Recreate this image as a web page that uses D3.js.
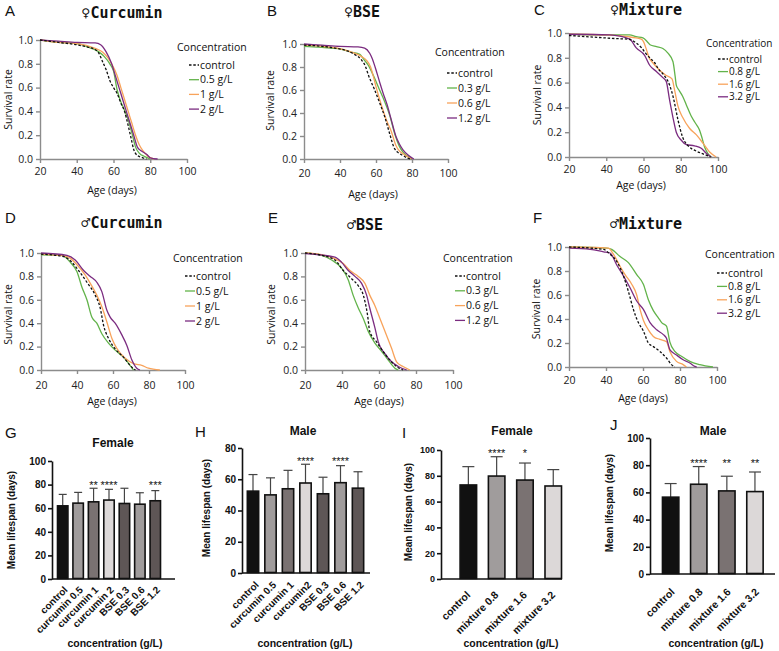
<!DOCTYPE html>
<html><head><meta charset="utf-8">
<script src="https://cdn.jsdelivr.net/npm/d3@7"></script>
<style>body{margin:0;background:#fff}svg{display:block}</style>
</head><body>
<svg id="c" width="779" height="651"></svg>
<script>
// ---------------- DATA ----------------
const ageTicks = [20, 40, 60, 80, 100];
const survTicks = [0, 0.2, 0.4, 0.6, 0.8, 1.0];
const seriesColors = ['#111111', '#62b34a', '#f8a35b', '#7b2c80'];

// A  female curcumin
const fCurLabels = ['control', '0.5 g/L', '1 g/L', '2 g/L'];
const fCurControl = [[20,1.0],[30,0.98],[40,0.96],[46,0.94],[50,0.92],[52,0.89],[54,0.82],[56,0.75],[58,0.66],[60,0.6],[62,0.55],[64,0.47],[66,0.4],[68,0.28],[69.5,0.18],[71,0.08],[73,0.03],[76,0.01],[78,0]];
const fCur05 = [[20,1.0],[30,0.98],[40,0.97],[48,0.93],[52,0.9],[55,0.86],[58,0.8],[60,0.74],[62,0.58],[64,0.48],[66,0.41],[68,0.33],[70,0.22],[72,0.1],[74,0.05],[77,0.02],[80,0]];
const fCur1 = [[20,1.0],[30,0.98],[40,0.97],[50,0.93],[54,0.9],[57,0.85],[59,0.8],[62,0.7],[64,0.6],[66,0.5],[68,0.4],[70,0.3],[72,0.2],[74,0.12],[76,0.07],[79,0.02],[82,0]];
const fCur2 = [[20,1.0],[30,0.99],[40,0.98],[50,0.975],[53,0.96],[56,0.9],[59,0.8],[61,0.7],[63,0.6],[65,0.5],[67,0.4],[69,0.3],[71,0.2],[73,0.1],[75,0.07],[78,0.04],[80,0.01],[84,0]];

// B  female BSE
const fBseLabels = ['control', '0.3 g/L', '0.6 g/L', '1.2 g/L'];
const fBseControl = [[20,0.99],[30,0.98],[37,0.965],[44,0.94],[48,0.91],[52,0.86],[54,0.81],[56,0.72],[59,0.61],[62,0.49],[65,0.36],[67.6,0.22],[70,0.1],[72,0.06],[75,0.03],[78,0.005],[80,0]];
const fBse03 = [[20,0.98],[30,0.97],[39,0.96],[46,0.93],[51,0.91],[53,0.87],[55.5,0.82],[59,0.71],[62,0.6],[64,0.53],[67.6,0.38],[70.4,0.22],[73,0.11],[75,0.06],[77,0.03],[80,0]];
const fBse06 = [[20,0.99],[30,0.98],[40,0.96],[48,0.92],[52,0.89],[54.6,0.86],[57,0.8],[58.5,0.72],[60,0.63],[62,0.52],[64,0.42],[66,0.33],[68.5,0.24],[71,0.12],[73,0.07],[75,0.045],[78,0.015],[80,0]];
const fBse12 = [[20,1.0],[30,0.99],[40,0.98],[50,0.975],[53.7,0.965],[56.5,0.92],[58,0.87],[59.5,0.8],[62,0.67],[64,0.57],[66,0.48],[68.5,0.34],[71,0.2],[73,0.13],[75,0.08],[77.8,0.035],[81,0]];

// C  female mixture
const fMixLabels = ['control', '0.8 g/L', '1.6 g/L', '3.2 g/L'];
const fMixControl = [[20,0.98],[35,0.965],[45,0.955],[52,0.95],[56,0.92],[59,0.88],[61,0.84],[64,0.79],[66,0.76],[68,0.71],[71,0.66],[74,0.58],[76,0.48],[78.5,0.3],[81,0.16],[84,0.09],[88,0.05],[92,0.025],[96,0]];
const fMix08 = [[20,0.99],[40,0.985],[52.6,0.985],[56,0.97],[59.7,0.96],[62,0.93],[63.5,0.905],[67,0.89],[70.4,0.875],[73,0.84],[75.8,0.77],[77,0.65],[77.6,0.58],[79,0.54],[81,0.49],[83,0.42],[85.6,0.33],[88,0.27],[90,0.22],[91.5,0.15],[92.8,0.08],[94.5,0.03],[96.4,0]];
const fMix16 = [[20,0.99],[40,0.985],[52,0.97],[56,0.96],[58.8,0.95],[60,0.93],[61.5,0.87],[63,0.8],[65,0.76],[68.7,0.7],[72,0.66],[75.3,0.63],[76.7,0.54],[78.5,0.41],[81,0.32],[84.8,0.23],[88.3,0.18],[92,0.11],[95.5,0.04],[99,0]];
const fMix32 = [[20,0.99],[41.8,0.985],[52.6,0.95],[56.1,0.88],[60.6,0.82],[63.3,0.74],[66.9,0.69],[70.4,0.64],[72.2,0.61],[74,0.46],[75.8,0.32],[77.6,0.2],[80.3,0.135],[83,0.1],[87.4,0.09],[91,0.07],[93.7,0.03],[96.4,0]];

// D  male curcumin
const mCurLabels = ['control', '0.5 g/L', '1 g/L', '2 g/L'];
const mCurControl = [[20,0.99],[32.6,0.97],[37.2,0.92],[40.9,0.85],[45.5,0.75],[50.1,0.64],[52.9,0.53],[54.8,0.38],[57.5,0.27],[61.2,0.18],[65.8,0.11],[69.5,0.04],[71.4,0.01],[72.5,0]];
const mCur05 = [[20,0.985],[31.6,0.98],[36.3,0.92],[40,0.84],[42.7,0.71],[45.5,0.6],[48.3,0.45],[51,0.4],[53.8,0.31],[57.5,0.23],[61.2,0.17],[65.8,0.11],[68.6,0.057],[71.4,0]];
const mCur1 = [[20,0.99],[34.4,0.97],[40,0.9],[44.6,0.81],[47.4,0.74],[51,0.64],[53.8,0.54],[56.6,0.41],[59.4,0.27],[62.1,0.185],[66.8,0.1],[71.4,0.055],[76,0.04],[79.7,0.015],[86,0]];
const mCur2 = [[20,1.0],[34.4,0.98],[39,0.94],[43.7,0.85],[47.4,0.8],[51,0.75],[53.8,0.67],[56.6,0.51],[58.5,0.45],[61.2,0.4],[64.9,0.3],[67.7,0.21],[70.5,0.085],[73.2,0.015],[75,0]];

// E  male BSE
const mBseLabels = ['control', '0.3 g/L', '0.6 g/L', '1.2 g/L'];
const mBseControl = [[20,1.0],[29,0.98],[36.2,0.94],[40.7,0.85],[45.2,0.78],[48.8,0.72],[51.5,0.64],[53.8,0.47],[55,0.33],[58.7,0.24],[62.3,0.156],[65.9,0.085],[69.5,0.03],[73,0]];
const mBse03 = [[20,1.0],[29,0.98],[34.4,0.94],[39.8,0.87],[43.4,0.77],[46,0.64],[48.8,0.53],[51.5,0.44],[54.2,0.33],[57.8,0.23],[61.4,0.16],[65,0.085],[68.6,0.015],[70.4,0]];
const mBse06 = [[20,1.0],[29,0.985],[36.2,0.95],[40.7,0.91],[44.3,0.85],[48.8,0.8],[52.4,0.74],[55,0.64],[57.8,0.55],[60.5,0.44],[64,0.3],[66.8,0.185],[69.5,0.07],[73,0.03],[76.7,0]];
const mBse12 = [[20,0.995],[36.2,0.965],[39.8,0.92],[43.4,0.85],[47,0.8],[50.6,0.74],[53.3,0.64],[55,0.53],[57.8,0.36],[59.6,0.24],[63.2,0.14],[66.8,0.07],[70.4,0.03],[75,0]];

// F  male mixture
const mMixLabels = ['control', '0.8 g/L', '1.6 g/L', '3.2 g/L'];
const mMixControl = [[20,1.0],[38.7,0.98],[42.2,0.94],[45.8,0.88],[49.4,0.76],[52.1,0.63],[54.8,0.48],[57.5,0.37],[60.2,0.3],[62.9,0.2],[65.6,0.17],[69.1,0.13],[72.7,0.075],[75.4,0.02],[77.2,0]];
const mMix08 = [[20,1.0],[40.4,0.99],[43.1,0.98],[47.6,0.92],[52.1,0.87],[56.6,0.77],[60.2,0.69],[62.9,0.56],[65.6,0.47],[68.3,0.41],[70.1,0.37],[72.7,0.34],[74.5,0.21],[77.2,0.13],[80.8,0.09],[85.3,0.047],[90.7,0.02],[97.8,0]];
const mMix16 = [[20,1.0],[41.3,0.99],[44,0.94],[47.6,0.84],[50.3,0.77],[53.9,0.69],[56.6,0.6],[58.4,0.48],[60.2,0.39],[62.9,0.31],[65.6,0.255],[69.1,0.23],[72.7,0.21],[74.5,0.13],[78.1,0.047],[81.7,0.02],[83.5,0]];
const mMix32 = [[20,0.99],[31.5,0.98],[38.7,0.96],[42.2,0.95],[45.8,0.85],[49.4,0.76],[53,0.66],[56.6,0.55],[60.2,0.48],[63.8,0.37],[67.4,0.31],[71,0.27],[72.7,0.24],[74.5,0.145],[78.1,0.1],[81.7,0.06],[85.3,0.033],[88,0.005],[89,0]];

// G  female mean lifespan (curcumin / BSE)
const gCats = ['control', 'curcumin 0.5', 'curcumin 1', 'curcumin 2', 'BSE 0.3', 'BSE 0.6', 'BSE 1.2'];
const gMeans = [62, 64.3, 65.4, 66.9, 64, 63.4, 66.3];
const gErrTop = [71.7, 73.4, 76.9, 76, 76.9, 73.1, 74.9];
const gStars = ['', '', '**', '****', '', '', '***'];
const gTicks = [0, 20, 40, 60, 80, 100];

// H  male mean lifespan (curcumin / BSE)
const hCats = ['control', 'curcumin 0.5', 'curcumin 1', 'curcumin2', 'BSE 0.3', 'BSE 0.6', 'BSE 1.2'];
const hMeans = [52.4, 50, 53.9, 57.6, 50.7, 57.8, 54.3];
const hErrTop = [63, 60.9, 65.7, 69.6, 61.3, 68.7, 64.8];
const hStars = ['', '', '', '****', '', '****', ''];
const hTicks = [0, 20, 40, 60, 80];

// I  female mean lifespan (mixture)
const iCats = ['control', 'mixture 0.8', 'mixture 1.6', 'mixture 3.2'];
const iMeans = [72.9, 79.8, 76.7, 72.1];
const iErrTop = [87.1, 94.8, 89.9, 84.8];
const iStars = ['', '****', '*', ''];
const iTicks = [0, 20, 40, 60, 80, 100];

// J  male mean lifespan (mixture)
const jCats = ['control', 'mixture 0.8', 'mixture 1.6', 'mixture 3.2'];
const jMeans = [56.5, 66, 61.1, 60.6];
const jErrTop = [66.5, 79, 71.9, 75];
const jStars = ['', '****', '**', '**'];
const jTicks = [0, 20, 40, 60, 80, 100];

const barFills7 = ['#111111', '#a09c9c', '#7a7272', '#dcd8d8', '#5e5656', '#a09c9c', '#5e5656'];
const barFills4 = ['#111111', '#a09c9c', '#7a7272', '#dcd8d8'];

// ---------------- DRAW ----------------
const svg = d3.select('#c');
const SANS = "'Open Sans', 'Noto Sans', sans-serif";
const ARIAL = "'Liberation Sans', Arial, sans-serif";
const MONO = "'DejaVu Sans Mono', monospace";

function txt(x, y, s, o = {}) {
  const t = svg.append('text').attr('x', x).attr('y', y).text(s)
    .attr('font-family', o.family || SANS).attr('font-size', o.size || 11)
    .attr('fill', o.fill || '#111').attr('text-anchor', o.anchor || 'middle');
  if (o.weight) t.attr('font-weight', o.weight);
  if (o.rotate) t.attr('transform', `rotate(${o.rotate},${x},${y})`);
  return t;
}

function survival(p) {
  const x = d3.scaleLinear().domain([20, 100]).range([p.x0, p.x1]);
  const y = d3.scaleLinear().domain([0, 1]).range([p.yb, p.yt]);
  const g = svg.append('g');
  const gx = g.append('g').attr('transform', `translate(0,${p.yb})`)
    .call(d3.axisBottom(x).tickValues(ageTicks).tickSize(4).tickSizeOuter(0).tickPadding(p.xpad));
  const gy = g.append('g').attr('transform', `translate(${p.x0},0)`)
    .call(d3.axisLeft(y).tickValues(survTicks).tickSize(4).tickSizeOuter(0).tickPadding(3).tickFormat(d3.format('.1f')));
  [gx, gy].forEach(a => {
    a.selectAll('path,line').attr('stroke', '#8c8c8c').attr('stroke-width', 1.4);
    a.selectAll('text').attr('font-family', SANS).attr('font-size', 10.5).attr('fill', '#222');
  });
  const line = d3.line().x(d => x(d[0])).y(d => y(d[1])).curve(d3.curveMonotoneX);
  const order = [1, 2, 3, 0];
  order.forEach(i => {
    g.append('path').attr('d', line(p.series[i])).attr('fill', 'none')
      .attr('stroke', seriesColors[i]).attr('stroke-width', 1.3)
      .attr('stroke-dasharray', i === 0 ? '2.5,1.8' : null);
  });
  // legend
  const ls = p.legSize || 10.5;
  txt(p.lx, p.ly, 'Concentration', { anchor: 'start', size: ls });
  p.labels.forEach((lab, i) => {
    const yy = p.ry + i * p.rdy;
    svg.append('line').attr('x1', p.lx + 12).attr('x2', p.lx + 22).attr('y1', yy).attr('y2', yy)
      .attr('stroke', seriesColors[i]).attr('stroke-width', 1.3)
      .attr('stroke-dasharray', i === 0 ? '2.5,1.8' : null);
    txt(p.lx + 23, yy + ls * 0.35, lab, { anchor: 'start', size: ls });
  });
  // titles
  txt(p.tx, p.ty, p.title, { family: MONO, size: 15, weight: 'bold' });
  txt(p.letX, p.letY, p.letter, { family: ARIAL, size: 15, anchor: 'start' });
  txt(p.ylx, (p.yb + p.yt) / 2 + p.yldy, 'Survival rate', { rotate: -90, size: 10.5 });
  txt(p.xlx, p.xly, 'Age (days)', { size: 10.5 });
}

function bars(p) {
  const x = d3.scaleBand().domain(p.cats).range([p.b0, p.b1]).paddingInner(p.pad).paddingOuter(p.pad / 2);
  const y = d3.scaleLinear().domain([0, p.ymax]).range([p.yb, p.yt]);
  const g = svg.append('g');
  const bw = x.bandwidth();
  // error bars
  p.cats.forEach((c, i) => {
    const cx = x(c) + bw / 2;
    g.append('line').attr('x1', cx).attr('x2', cx).attr('y1', y(p.means[i])).attr('y2', y(p.err[i]))
      .attr('stroke', '#444').attr('stroke-width', 1.2);
    g.append('line').attr('x1', cx - p.cap / 2).attr('x2', cx + p.cap / 2).attr('y1', y(p.err[i])).attr('y2', y(p.err[i]))
      .attr('stroke', '#444').attr('stroke-width', 1.2);
  });
  g.selectAll('rect.b').data(p.cats).join('rect').attr('class', 'b')
    .attr('x', d => x(d) + 0.8).attr('width', bw - 1.6)
    .attr('y', (d, i) => y(p.means[i])).attr('height', (d, i) => p.yb - y(p.means[i]) - 0.5)
    .attr('fill', (d, i) => p.fills[i]).attr('stroke', '#111').attr('stroke-width', 1.6);
  // axes
  g.append('line').attr('x1', p.ax0).attr('x2', p.ax1).attr('y1', p.yb).attr('y2', p.yb).attr('stroke', '#111').attr('stroke-width', 1.6);
  const gy = g.append('g').attr('transform', `translate(${p.ax0},0)`)
    .call(d3.axisLeft(y).tickValues(p.ticks).tickSize(4).tickSizeOuter(0).tickPadding(2));
  gy.selectAll('path,line').attr('stroke', '#111').attr('stroke-width', 1.6);
  gy.selectAll('text').attr('font-family', ARIAL).attr('font-weight', 'bold').attr('font-size', p.tickSize).attr('fill', '#111');
  // stars
  const sy = y(d3.max(p.err)) + 0.5;
  p.stars.forEach((s, i) => {
    if (s) txt(x(p.cats[i]) + bw / 2, sy, s, { family: ARIAL, size: 11 });
  });
  // x labels
  p.cats.forEach((c, i) => {
    const cx = x(c) + bw / 2 + p.ldx, cy = p.yb + p.ldy;
    svg.append('text').attr('transform', `translate(${cx},${cy}) rotate(-45)`).attr('dy', '0.35em')
      .attr('text-anchor', 'end').attr('font-family', ARIAL).attr('font-weight', 'bold')
      .attr('font-size', p.labSize).attr('fill', '#111').text(c);
  });
  txt(p.tx, p.ty, p.title, { family: ARIAL, weight: 'bold', size: 12 });
  txt(p.letX, p.letY, p.letter, { family: ARIAL, size: 15, anchor: 'start' });
  txt(p.ylx, p.yly, 'Mean lifespan (days)', { family: ARIAL, weight: 'bold', size: 10, rotate: -90 });
  txt(p.xlx, 647, 'concentration (g/L)', { family: ARIAL, weight: 'bold', size: 10.5 });
}

survival({ x0: 40, x1: 187, yt: 40, yb: 159, xpad: 5, series: [fCurControl, fCur05, fCur1, fCur2], labels: fCurLabels,
  lx: 177, ly: 51, ry: 65, rdy: 14.7, title: '\u2640Curcumin', tx: 122, ty: 18, letter: 'A', letX: 5, letY: 16,
  ylx: 12, yldy: 0, xlx: 112, xly: 194 });
survival({ x0: 304, x1: 448, yt: 44, yb: 159, xpad: 7, series: [fBseControl, fBse03, fBse06, fBse12], labels: fBseLabels,
  lx: 435, ly: 56, ry: 73, rdy: 15, title: '\u2640BSE', tx: 362, ty: 17, letter: 'B', letX: 267, letY: 16,
  ylx: 274, yldy: -1, xlx: 373, xly: 198 });
survival({ x0: 569, x1: 718, yt: 33, yb: 157, xpad: 5, series: [fMixControl, fMix08, fMix16, fMix32], labels: fMixLabels,
  lx: 706, ly: 47, ry: 59, rdy: 12.6, legSize: 10, title: '\u2640Mixture', tx: 646, ty: 15, letter: 'C', letX: 534, letY: 15,
  ylx: 541, yldy: 0, xlx: 641, xly: 189 });
survival({ x0: 41, x1: 185, yt: 253, yb: 370, xpad: 8, series: [mCurControl, mCur05, mCur1, mCur2], labels: mCurLabels,
  lx: 173, ly: 262, ry: 276, rdy: 15, title: '\u2642Curcumin', tx: 122, ty: 228, letter: 'D', letX: 5, letY: 223,
  ylx: 12, yldy: 3, xlx: 112, xly: 405 });
survival({ x0: 305, x1: 453, yt: 253, yb: 370, xpad: 8, series: [mBseControl, mBse03, mBse06, mBse12], labels: mBseLabels,
  lx: 443, ly: 262, ry: 276, rdy: 14.8, title: '\u2642BSE', tx: 365, ty: 230, letter: 'E', letX: 268, letY: 223,
  ylx: 275, yldy: 3, xlx: 379, xly: 405 });
survival({ x0: 569, x1: 717, yt: 247, yb: 367, xpad: 6, series: [mMixControl, mMix08, mMix16, mMix32], labels: mMixLabels,
  lx: 705, ly: 258, ry: 273, rdy: 13.4, title: '\u2642Mixture', tx: 646, ty: 229, letter: 'F', letX: 533, letY: 223,
  ylx: 540, yldy: 2, xlx: 643, xly: 402 });

bars({ cats: gCats, means: gMeans, err: gErrTop, stars: gStars, ticks: gTicks, fills: barFills7, ymax: 100,
  b0: 55, b1: 163, pad: 0.22, yb: 579, yt: 461, ax0: 52, ax1: 175, cap: 8, tickSize: 10, labSize: 10, ldx: 3, ldy: 9,
  title: 'Female', tx: 113, ty: 447, letter: 'G', letX: 5, letY: 438, ylx: 15, yly: 520, xlx: 115 });
bars({ cats: hCats, means: hMeans, err: hErrTop, stars: hStars, ticks: hTicks, fills: barFills7, ymax: 80,
  b0: 244.25, b1: 366.75, pad: 0.26, yb: 573, yt: 448, ax0: 242, ax1: 370, cap: 9, tickSize: 10, labSize: 10, ldx: 4, ldy: 10,
  title: 'Male', tx: 303, ty: 435, letter: 'H', letX: 195, letY: 437, ylx: 210, yly: 508, xlx: 305 });
bars({ cats: iCats, means: iMeans, err: iErrTop, stars: iStars, ticks: iTicks, fills: barFills4, ymax: 100,
  b0: 454.2, b1: 567.4, pad: 0.36, yb: 579, yt: 450, ax0: 441, ax1: 562, cap: 12, tickSize: 9, labSize: 10.5, ldx: 0, ldy: 14,
  title: 'Female', tx: 512, ty: 435, letter: 'I', letX: 402, letY: 438, ylx: 412, yly: 512, xlx: 511 });
bars({ cats: jCats, means: jMeans, err: jErrTop, stars: jStars, ticks: jTicks, fills: barFills4, ymax: 100,
  b0: 656.6, b1: 769, pad: 0.36, yb: 574, yt: 438, ax0: 650, ax1: 775, cap: 12, tickSize: 10, labSize: 10.5, ldx: 2, ldy: 16,
  title: 'Male', tx: 713, ty: 435, letter: 'J', letX: 610, letY: 430, ylx: 613, yly: 503, xlx: 716 });
</script>
</body></html>
